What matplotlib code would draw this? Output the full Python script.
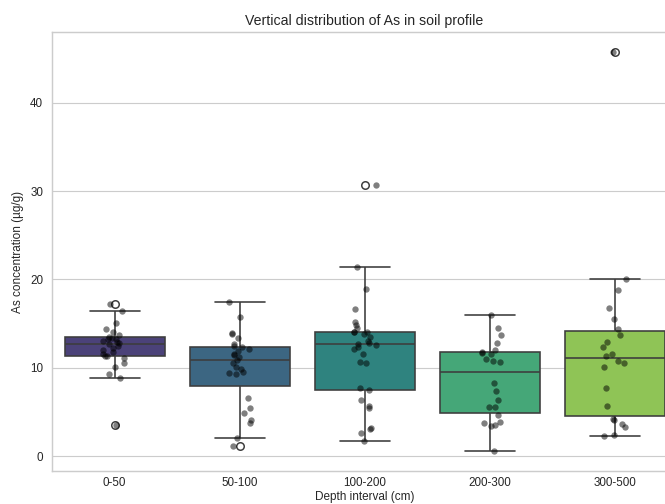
import matplotlib

matplotlib.use("Agg")

import matplotlib.pyplot as plt
import numpy as np
import pandas as pd
import seaborn as sns


DEPTHS = ["0-50", "50-100", "100-200", "200-300", "300-500"]

AS_0_50 = [
    3.48, 8.85, 9.30, 10.10, 10.56, 11.06, 11.28, 11.36, 11.54, 11.80,
    12.00, 12.19, 12.45, 12.64, 12.76, 12.90, 13.05, 13.20, 13.30, 13.40,
    13.48, 13.70, 14.00, 14.42, 15.03, 16.46, 17.25,
]
AS_50_100 = [
    1.14, 2.01, 3.79, 4.05, 4.92, 5.49, 6.63, 9.24, 9.42, 9.55,
    9.80, 10.10, 10.50, 10.86, 11.17, 11.40, 11.54, 11.92, 12.07, 12.30,
    12.44, 12.68, 13.32, 13.80, 13.96, 15.71, 17.41,
]
AS_100_200 = [
    1.75, 2.61, 3.10, 3.22, 5.49, 5.64, 6.40, 7.46, 7.65, 10.49,
    10.60, 11.51, 12.07, 12.40, 12.60, 12.70, 12.83, 13.05, 13.51, 13.80,
    14.00, 14.00, 14.00, 14.50, 14.84, 15.14, 16.65, 18.92, 21.42, 30.73,
]
AS_200_300 = [
    0.57, 3.40, 3.48, 3.75, 3.83, 4.65, 5.50, 5.60, 6.36, 7.34,
    8.29, 10.64, 10.75, 11.01, 11.50, 11.70, 11.80, 12.00, 12.83, 13.73,
    14.53, 15.94,
]
AS_300_500 = [
    2.27, 2.35, 3.29, 3.68, 4.13, 4.24, 5.64, 7.76, 10.03, 10.56,
    10.78, 11.35, 11.51, 12.30, 12.94, 13.73, 14.35, 15.52, 16.73, 18.81,
    20.02, 45.74,
]

np.random.seed(3)

sns.set_theme(style="whitegrid")
plt.rcParams["font.family"] = ["Liberation Sans", "DejaVu Sans"]


def main():
    values = [AS_0_50, AS_50_100, AS_100_200, AS_200_300, AS_300_500]
    data = pd.DataFrame({
        "depth": np.repeat(DEPTHS, [len(v) for v in values]),
        "As": np.concatenate(values),
    })
    data["depth"] = pd.Categorical(data["depth"], categories=DEPTHS, ordered=True)

    dpi = 83.125
    fig = plt.figure(figsize=(665 / dpi, 504 / dpi), dpi=dpi)
    ax = fig.add_axes([52 / 665, 33 / 504, 625 / 665, 439 / 504])

    sns.boxplot(
        data=data,
        x="depth",
        y="As",
        hue="depth",
        palette="viridis",
        legend=False,
        linecolor="#3d3d3d",
        linewidth=1.4,
        flierprops={"markersize": 6.5, "markeredgewidth": 1.3},
        ax=ax,
    )
    sns.stripplot(
        data=data,
        x="depth",
        y="As",
        color="black",
        alpha=0.5,
        size=5.5,
        jitter=0.1,
        ax=ax,
    )

    ax.set_title("Vertical distribution of As in soil profile", fontsize=12.2)
    ax.set_xlabel("Depth interval (cm)", fontsize=10.2)
    ax.set_ylabel("As concentration (µg/g)", fontsize=10.2)
    ax.xaxis.set_label_coords(0.5, -0.045)
    ax.yaxis.set_label_coords(-0.045, 0.5)
    ax.tick_params(axis="x", labelsize=10.1, length=0, pad=5.2)
    ax.tick_params(axis="y", labelsize=10.1, length=0, pad=7.8)

    fig.savefig("out.png", dpi=dpi)
    plt.close(fig)


if __name__ == "__main__":
    main()
